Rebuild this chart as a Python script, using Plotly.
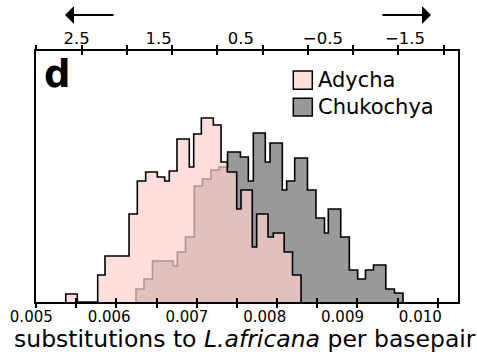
import plotly.graph_objects as go

# ---------------- data ----------------
adycha_edges = [0.005370, 0.005514, 0.005768, 0.005859, 0.006158, 0.006261, 0.006365,
                0.006510, 0.006602, 0.006659, 0.006755, 0.006908, 0.006963, 0.007058,
                0.007207, 0.007303, 0.007381, 0.007498, 0.007552, 0.007692, 0.007747,
                0.007888, 0.007954, 0.008089, 0.008193, 0.008299]
adycha_counts = [8, 0, 27, 46, 88, 121, 130, 125, 121, 131, 163, 135, 168, 184, 177,
                 140, 130, 93, 112, 55, 88, 65, 69, 50, 27]

chuk_edges = [0.006245, 0.006344, 0.006450, 0.006709, 0.006759, 0.006861, 0.006970,
              0.007072, 0.007178, 0.007280, 0.007384, 0.007545, 0.007643, 0.007705,
              0.007854, 0.007913, 0.008066, 0.008120, 0.008220, 0.008379, 0.008485,
              0.008591, 0.008638, 0.008793, 0.008900, 0.009004, 0.009101, 0.009201,
              0.009354, 0.009462, 0.009568]
chuk_counts = [13, 23, 41, 36, 50, 65, 116, 123, 132, 135, 150, 145, 121, 169, 140,
               159, 112, 121, 144, 112, 84, 69, 93, 65, 32, 23, 32, 37, 13, 9]

series_names = ["Adycha", "Chukochya"]

bottom_tick_vals = [0.005, 0.0055, 0.006, 0.0065, 0.007, 0.0075, 0.008, 0.0085,
                    0.009, 0.0095, 0.010]
bottom_label_vals = [0.005, 0.006, 0.007, 0.008, 0.009, 0.010]
bottom_labels = ["0.005", "0.006", "0.007", "0.008", "0.009", "0.010"]

top_tick_vals = [3.0, 2.5, 2.0, 1.5, 1.0, 0.5, 0.0, -0.5, -1.0, -1.5]
top_label_vals = [2.5, 1.5, 0.5, -0.5, -1.5]
top_labels = ["2.5", "1.5", "0.5", "\u22120.5", "\u22121.5"]

x_title = "substitutions to <i>L.africana</i> per basepair"
panel_label = "d"

# ---------------- styling ----------------
FONT = "DejaVu Sans"
PINK = "rgba(255,208,208,0.7)"
PINK_SOLID = "#ffdede"
GRAY = "#999999"

W, H = 477, 352
X0, X1 = 36.0, 458.0          # plot frame, pixels
Y0, Y1 = 51.0, 302.0
dom = [X0 / W, X1 / W]

x_range = [0.005, 0.0102527]
top_range = [3.005, -1.658]
# label axes span the full figure width
x_label_range = [0.0045977, 0.0107288]
top_label_range = [3.4334, -2.3773]
y_range = [0, 251]


def step_xy(edges, counts):
    xs = [edges[0]] + list(edges)
    ys = [0] + list(counts) + [0]
    return xs, ys


fig = go.Figure()

cx, cy = step_xy(chuk_edges, chuk_counts)
fig.add_trace(go.Scatter(x=cx, y=cy, mode="lines", name=series_names[1],
                         line=dict(shape="hv", color="black", width=1.6),
                         fill="tozeroy", fillcolor=GRAY, showlegend=False,
                         hoverinfo="skip"))
ax_, ay_ = step_xy(adycha_edges, adycha_counts)
fig.add_trace(go.Scatter(x=ax_, y=ay_, mode="lines", name=series_names[0],
                         line=dict(shape="hv", color="black", width=1.6),
                         fill="tozeroy", fillcolor=PINK, showlegend=False,
                         hoverinfo="skip"))

# empty traces so that the helper axes exist
for xa in ["x2", "x3", "x4", "x5", "x6"]:
    fig.add_trace(go.Scatter(x=[None], y=[None], xaxis=xa, yaxis="y",
                             showlegend=False, hoverinfo="skip"))

common = dict(showgrid=False, zeroline=False, tickcolor="black", tickwidth=1.5,
              ticklen=4)

fig.update_layout(
    width=W, height=H,
    margin=dict(l=0, r=0, t=Y0, b=H - Y1, pad=0),
    paper_bgcolor="white", plot_bgcolor="rgba(0,0,0,0)",
    font=dict(family=FONT, color="black"),
    xaxis=dict(domain=dom, range=x_range, showline=True, linecolor="black",
               linewidth=2, ticks="outside", tickvals=bottom_tick_vals,
               showticklabels=False, **common),
    xaxis3=dict(range=x_range, overlaying="x", anchor="y", side="bottom",
                ticks="inside", tickvals=bottom_tick_vals, showticklabels=False,
                showline=False, **common),
    xaxis2=dict(range=top_range, overlaying="x", anchor="y", side="top",
                showline=True, linecolor="black", linewidth=2,
                ticks="outside", tickvals=top_tick_vals, showticklabels=False,
                **common),
    xaxis5=dict(range=top_range, overlaying="x", anchor="y", side="top",
                ticks="inside", tickvals=top_tick_vals, showticklabels=False,
                showline=False, **common),
    xaxis4=dict(domain=[0, 1], range=x_label_range, anchor="free", position=0,
                side="bottom", ticks="", tickvals=bottom_label_vals,
                ticktext=bottom_labels, tickfont=dict(size=15, family=FONT),
                showline=False, ticklabelstandoff=4, showgrid=False,
                zeroline=False),
    xaxis6=dict(domain=[0, 1], range=top_label_range, anchor="free", position=1,
                side="top", ticks="", tickvals=top_label_vals,
                ticktext=top_labels, tickfont=dict(size=16.5, family=FONT),
                showline=False, ticklabelstandoff=4, showgrid=False,
                zeroline=False),
    yaxis=dict(range=y_range, showline=True, mirror=True, linecolor="black",
               linewidth=2, ticks="", showticklabels=False, showgrid=False,
               zeroline=False),
)

PW, PH = X1 - X0, Y1 - Y0


def px(xp):
    return xp / W


def py(yp):
    return (Y1 - yp) / PH


annotations = [
    dict(text=x_title, x=px(245), y=py(339), xref="paper", yref="paper",
         xanchor="center", yanchor="middle", showarrow=False,
         font=dict(size=23.5, family=FONT)),
    dict(text="<b>%s</b>" % panel_label, x=px(42), y=py(51), xref="paper",
         yref="paper", xanchor="left", yanchor="top", showarrow=False,
         font=dict(size=37, family=FONT)),
    dict(text=series_names[0], x=px(316), y=py(80), xref="paper", yref="paper",
         xanchor="left", yanchor="middle", showarrow=False,
         font=dict(size=21, family=FONT)),
    dict(text=series_names[1], x=px(316), y=py(107), xref="paper", yref="paper",
         xanchor="left", yanchor="middle", showarrow=False,
         font=dict(size=21, family=FONT)),
    # arrows above the top axis
    dict(text="", x=px(65), y=py(15), xref="paper", yref="paper", showarrow=True,
         ax=50, ay=0, arrowhead=1, arrowsize=1.5, arrowwidth=2,
         arrowcolor="black"),
    dict(text="", x=px(431), y=py(15), xref="paper", yref="paper", showarrow=True,
         ax=-50, ay=0, arrowhead=1, arrowsize=1.5, arrowwidth=2,
         arrowcolor="black"),
]
fig.update_layout(annotations=annotations)

shapes = [
    dict(type="rect", xref="paper", yref="paper", x0=px(293.3), x1=px(312.3),
         y0=py(89.3), y1=py(71), fillcolor=PINK_SOLID,
         line=dict(color="black", width=1.5)),
    dict(type="rect", xref="paper", yref="paper", x0=px(293.3), x1=px(312.3),
         y0=py(116), y1=py(98.3), fillcolor=GRAY,
         line=dict(color="black", width=1.5)),
]
fig.update_layout(shapes=shapes)

fig.write_html("out.html", config={"displayModeBar": False},
               post_script="document.body.style.margin='0';"
                           "document.body.style.padding='0';")
